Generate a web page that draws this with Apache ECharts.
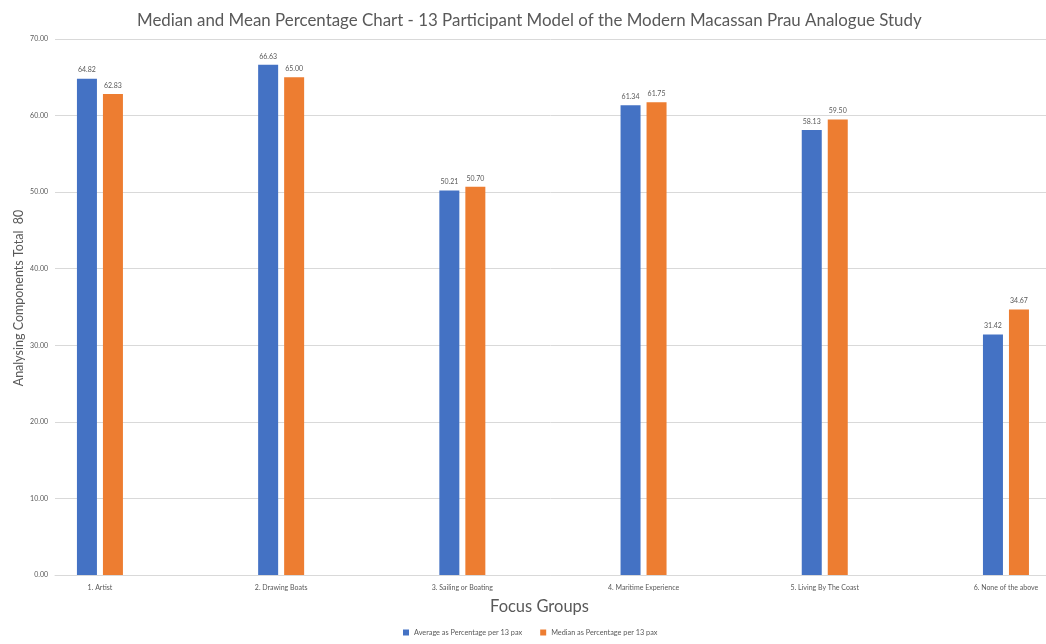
<!DOCTYPE html>
<html><head><meta charset="utf-8">
<script src="https://cdn.jsdelivr.net/npm/echarts@6/dist/echarts.min.js"></script>
<style>html,body{margin:0;padding:0;background:#fff}#c{width:1046px;height:644px}</style>
</head><body><div id="c"></div>
<script>
const categories = ['1. Artist','2. Drawing Boats','3. Sailing or Boating','4. Maritime Experience','5. Living By The Coast','6. None of the above'];
const averageValues = [64.82, 66.63, 50.21, 61.34, 58.13, 31.42];
const medianValues = [62.83, 65.00, 50.70, 61.75, 59.50, 34.67];
const seriesNames = ['Average as Percentage per 13 pax','Median as Percentage per 13 pax'];
const yTicks = [0,10,20,30,40,50,60,70];

const FONT = 'Lato';
const chart = echarts.init(document.getElementById('c'), null, {renderer:'canvas'});
const labelCfg = {show:true, position:'top', distance:5, fontSize:7, color:'#595959', fontFamily:FONT, formatter:p=>p.value[1].toFixed(2)};
chart.setOption({
  animation:false,
  color:['#4472C4','#ED7D31'],
  title:{text:'Median and Mean Percentage Chart - 13 Participant Model of the Modern Macassan Prau Analogue Study', left:132, top:7,
    textStyle:{fontFamily:FONT, fontSize:16.9, fontWeight:'normal', color:'#595959'}},
  legend:{bottom:3, left:398, itemWidth:6, itemHeight:6, itemGap:18, icon:'rect',
    textStyle:{fontFamily:FONT, fontSize:7.3, color:'#595959'}},
  grid:{left:55, right:0, top:39, bottom:69, outerBoundsMode:'none', containLabel:false},
  xAxis:{type:'value', min:-0.248, max:5.221,
    name:'Focus Groups', nameLocation:'middle', nameGap:23, nameTextStyle:{fontFamily:FONT, fontSize:16.5, color:'#595959', padding:[0,22,0,0]},
    axisLine:{show:true, onZero:false, lineStyle:{color:'#d9d9d9', width:1}},
    axisTick:{show:false}, splitLine:{show:false},
    axisLabel:{customValues:categories.map((c,i)=>i), formatter:v=>categories[Math.round(v)]||'', fontFamily:FONT, fontSize:7, color:'#595959', margin:9}},
  yAxis:{type:'value', min:yTicks[0], max:yTicks[yTicks.length-1], interval:10,
    name:'Analysing Components Total  80', nameLocation:'middle', nameGap:30, nameMoveOverlap:false,
    nameTextStyle:{fontFamily:FONT, fontSize:12.5, color:'#595959', padding:[0,0,0,18]},
    axisLine:{show:false}, axisTick:{show:false},
    splitLine:{lineStyle:{color:'#d9d9d9', width:1}},
    axisLabel:{formatter:v=>v.toFixed(2), fontFamily:FONT, fontSize:7, color:'#595959', margin:7}},
  series:[
    {name:seriesNames[0], type:'bar', barWidth:20, barGap:'30%', data:averageValues.map((v,i)=>[i,v]), label:labelCfg},
    {name:seriesNames[1], type:'bar', barWidth:20, barGap:'30%', data:medianValues.map((v,i)=>[i,v]), label:labelCfg}
  ]
});
</script></body></html>
